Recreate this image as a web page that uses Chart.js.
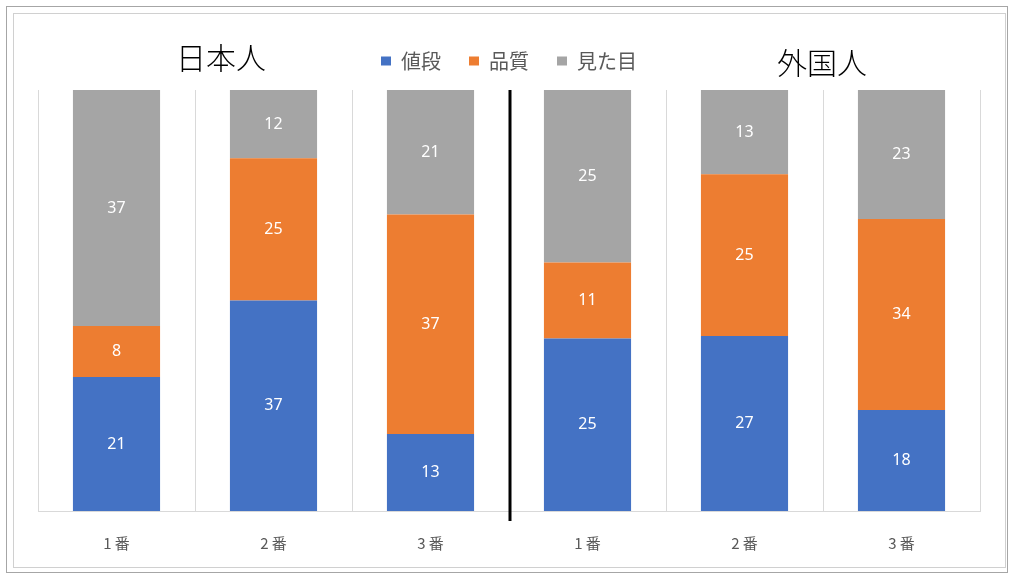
<!DOCTYPE html>
<html lang="ja">
<head>
<meta charset="utf-8">
<title>値段・品質・見た目</title>
<script src="https://cdn.jsdelivr.net/npm/chart.js@4/dist/chart.umd.min.js"></script>
<style>
    html, body { margin: 0; padding: 0; background: #fff; }
    #wrap { position: relative; width: 1015px; height: 581px; }
</style>
</head>
<body>
<div id="wrap"><canvas id="rankChart"></canvas></div>
<script>
// 順位ごとの回答数（日本人3本 + 外国人3本）
const rankLabels = ['1 番', '2 番', '3 番', '1 番', '2 番', '3 番'];
const groupTitles = ['日本人', '外国人'];
const priceCounts = [21, 37, 13, 25, 27, 18];
const qualityCounts = [8, 25, 37, 11, 25, 34];
const lookCounts = [37, 12, 21, 25, 13, 23];

const FONT = '"Noto Sans CJK JP", "Noto Sans", sans-serif';

// 100% 積み上げ用に割合へ変換
function toShare(counts, i) {
    const total = priceCounts[i] + qualityCounts[i] + lookCounts[i];
    return counts[i] / total * 100;
}
const makeSeries = counts => counts.map((_, i) => toShare(counts, i));

// 外枠、グループ見出し、区切り線、棒の中の数値
const decorPlugin = {
    id: 'decor',
    beforeInit(chart) {
        const fit = chart.legend.fit;
        chart.legend.fit = function () {
            fit.call(this);
            this.height += 9;
        };
    },
    beforeDraw(chart) {
        const ctx = chart.ctx;
        ctx.save();
        ctx.fillStyle = '#fff';
        ctx.fillRect(0, 0, chart.width, chart.height);
        ctx.strokeStyle = '#a6a6a6';
        ctx.lineWidth = 1;
        ctx.strokeRect(6.5, 6.5, 1001, 566);
        ctx.strokeStyle = '#d0d0d0';
        ctx.strokeRect(13.5, 13.5, 992, 554);
        ctx.restore();
    },
    afterDraw(chart) {
        const ctx = chart.ctx;
        const x = chart.scales.x;
        const area = chart.chartArea;
        ctx.save();

        // 見出し
        ctx.fillStyle = '#000';
        ctx.font = '300 30px ' + FONT;
        ctx.textAlign = 'center';
        ctx.textBaseline = 'middle';
        ctx.fillText(groupTitles[0], 221, 58);
        ctx.fillText(groupTitles[1], 822, 63);

        // 日本人と外国人の区切り
        const midX = (x.getPixelForValue(2) + x.getPixelForValue(3)) / 2 + 1;
        ctx.strokeStyle = '#000';
        ctx.lineWidth = 3;
        ctx.beginPath();
        ctx.moveTo(midX, area.top);
        ctx.lineTo(midX, area.bottom + 10);
        ctx.stroke();

        // 数値ラベル
        ctx.fillStyle = '#fff';
        ctx.font = '16px "Noto Sans", sans-serif';
        chart.data.datasets.forEach((ds, di) => {
            chart.getDatasetMeta(di).data.forEach((bar, i) => {
                const yMid = (bar.y + bar.base) / 2;
                ctx.fillText(String(ds.counts[i]), bar.x, yMid);
            });
        });
        ctx.restore();
    }
};

const ctx = document.getElementById('rankChart').getContext('2d');
new Chart(ctx, {
    type: 'bar',
    data: {
        labels: rankLabels,
        datasets: [
            { label: '値段', data: makeSeries(priceCounts), counts: priceCounts, backgroundColor: '#4472c4', borderWidth: 0 },
            { label: '品質', data: makeSeries(qualityCounts), counts: qualityCounts, backgroundColor: '#ed7d31', borderWidth: 0 },
            { label: '見た目', data: makeSeries(lookCounts), counts: lookCounts, backgroundColor: '#a5a5a5', borderWidth: 0 }
        ]
    },
    options: {
        responsive: true,
        maintainAspectRatio: false,
        animation: false,
        categoryPercentage: 1,
        barPercentage: 0.555,
        layout: { padding: { top: 23, left: 38, right: 35, bottom: 6 } },
        plugins: {
            legend: {
                position: 'top',
                labels: {
                    boxWidth: 10,
                    boxHeight: 9,
                    padding: 28,
                    color: '#595959',
                    font: { size: 20, family: FONT }
                }
            },
            tooltip: { enabled: false }
        },
        scales: {
            x: {
                stacked: true,
                grid: { color: '#d9d9d9', drawTicks: false, offset: true },
                border: { color: '#d9d9d9' },
                ticks: { color: '#595959', padding: 23, font: { size: 15, family: FONT } }
            },
            y: {
                stacked: true,
                display: false,
                min: 0,
                max: 100
            }
        }
    },
    plugins: [decorPlugin]
});
</script>
</body>
</html>
